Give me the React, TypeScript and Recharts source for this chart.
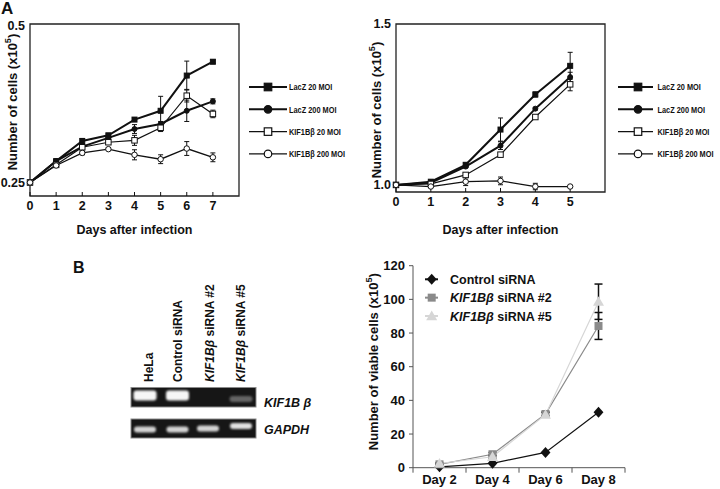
import React from "react";
import { LineChart, Line, XAxis, YAxis, ErrorBar, ReferenceArea, Legend } from "recharts";

// Panel A (left): cells x10^5, days 0-7
const daysLeft = [0, 1, 2, 3, 4, 5, 6, 7];
const lacZ20Left = [0.25, 0.284, 0.316, 0.325, 0.35, 0.364, 0.42, 0.442];
const lacZ20LeftErr = [0, 0.002, 0.004, 0.003, 0.003, 0.023, 0.023, 0.003];
const lacZ200Left = [0.25, 0.284, 0.307, 0.321, 0.335, 0.343, 0.364, 0.379];
const lacZ200LeftErr = [0, 0.002, 0.003, 0.003, 0.007, 0.004, 0.017, 0.004];
const kif20Left = [0.25, 0.278, 0.306, 0.314, 0.317, 0.337, 0.388, 0.359];
const kif20LeftErr = [0, 0.002, 0.003, 0.003, 0.008, 0.006, 0.01, 0.006];
const kif200Left = [0.25, 0.277, 0.297, 0.303, 0.294, 0.287, 0.304, 0.29];
const kif200LeftErr = [0, 0.002, 0.003, 0.002, 0.008, 0.007, 0.011, 0.007];
const leftTicksY = [0.25, 0.5];

// Panel A (right): days 0-5
const daysRight = [0, 1, 2, 3, 4, 5];
const lacZ20Right = [1.0, 1.01, 1.0625, 1.172, 1.281, 1.37];
const lacZ20RightErr = [0, 0.004, 0.005, 0.036, 0.008, 0.042];
const lacZ200Right = [1.0, 1.007, 1.057, 1.122, 1.237, 1.335];
const lacZ200RightErr = [0, 0.003, 0.004, 0.012, 0.004, 0.015];
const kif20Right = [1.0, 1.003, 1.031, 1.094, 1.211, 1.3125];
const kif20RightErr = [0, 0.003, 0.004, 0.006, 0.005, 0.02];
const kif200Right = [1.0, 0.995, 1.01, 1.0125, 0.995, 0.995];
const kif200RightErr = [0, 0.003, 0.012, 0.012, 0.01, 0.002];
const rightTicksY = [1.0, 1.5];

const seriesNamesA = ["LacZ 20 MOI", "LacZ 200 MOI", "KIF1Bβ 20 MOI", "KIF1Bβ 200 MOI"];

// Panel B (right): viable cells x10^5
const dayNumsB = [2, 4, 6, 8];
const controlB = [0.5, 2.6, 9.1, 32.9];
const controlBErr = [0, 0, 0, 0];
const si2B = [2, 8, 31.9, 84.2];
const si2BErr = [0.5, 1, 1, 8];
const si5B = [2.5, 6.5, 31.5, 98.6];
const si5BErr = [0.5, 1, 1.5, 10.5];
const ticksYB = [0, 20, 40, 60, 80, 100, 120];
const seriesNamesB = ["Control siRNA", "KIF1Bβ siRNA #2", "KIF1Bβ siRNA #5"];

// Panel B (left): RT-PCR gel
const laneNames = ["HeLa", "Control siRNA", "KIF1Bβ siRNA #2", "KIF1Bβ siRNA #5"];
const kifBandLevel = [1, 1, 0, 0.35];
const gapdhBandLevel = [0.85, 0.85, 0.85, 0.9];
const gelRowNames = ["KIF1B β", "GAPDH"];

const FONT = "'Liberation Sans', Arial, Helvetica, sans-serif";
const INK = "#111";

const styleA = [
  { key: "lacZ20", shape: "square", filled: true, lw: 2 },
  { key: "lacZ200", shape: "circle", filled: true, lw: 2 },
  { key: "kif20", shape: "square", filled: false, lw: 1.2 },
  { key: "kif200", shape: "circle", filled: false, lw: 1.3 },
];

const styleB = [
  { key: "control", shape: "diamond", size: 11, color: "#111" },
  { key: "si2", shape: "square", size: 8, color: "#8a8a8a" },
  { key: "si5", shape: "triangle", size: 11, color: "#d6d6d6" },
];

const rowsLeft = daysLeft.map((d, i) => ({
  day: d,
  lacZ20: lacZ20Left[i], lacZ20Err: lacZ20LeftErr[i],
  lacZ200: lacZ200Left[i], lacZ200Err: lacZ200LeftErr[i],
  kif20: kif20Left[i], kif20Err: kif20LeftErr[i],
  kif200: kif200Left[i], kif200Err: kif200LeftErr[i],
}));

const rowsRight = daysRight.map((d, i) => ({
  day: d,
  lacZ20: lacZ20Right[i], lacZ20Err: lacZ20RightErr[i],
  lacZ200: lacZ200Right[i], lacZ200Err: lacZ200RightErr[i],
  kif20: kif20Right[i], kif20Err: kif20RightErr[i],
  kif200: kif200Right[i], kif200Err: kif200RightErr[i],
}));

const rowsB = dayNumsB.map((d, i) => ({
  day: d,
  control: controlB[i], controlErr: controlBErr[i],
  si2: si2B[i], si2Err: si2BErr[i],
  si5: si5B[i], si5Err: si5BErr[i],
}));

function Marker({ cx, cy, shape, size, fill, stroke, sw }: any) {
  if (cx == null || cy == null) return <g />;
  const h = size / 2;
  if (shape === "square")
    return <rect x={cx - h} y={cy - h} width={size} height={size} fill={fill} stroke={stroke} strokeWidth={sw} />;
  if (shape === "circle") return <circle cx={cx} cy={cy} r={h} fill={fill} stroke={stroke} strokeWidth={sw} />;
  if (shape === "diamond")
    return (
      <polygon
        points={`${cx},${cy - h} ${cx + h * 0.9},${cy} ${cx},${cy + h} ${cx - h * 0.9},${cy}`}
        fill={fill} stroke={stroke} strokeWidth={sw}
      />
    );
  return (
    <polygon
      points={`${cx},${cy - h} ${cx + h},${cy + h * 0.75} ${cx - h},${cy + h * 0.75}`}
      fill={fill} stroke={stroke} strokeWidth={sw}
    />
  );
}

// italic gene name inside a label
function geneText(name: string) {
  if (!name.startsWith("KIF1Bβ")) return name;
  return [
    <tspan key="g" fontStyle="italic">KIF1Bβ</tspan>,
    <tspan key="r">{name.slice(6)}</tspan>,
  ];
}

function YTitle({ viewBox, cx, dy, size, text }: any) {
  const { x, y, height } = viewBox;
  const px = x + cx;
  const py = y + height / 2 + dy;
  return (
    <text
      x={px} y={py} transform={`rotate(-90 ${px} ${py})`} textAnchor="middle"
      fontSize={size} fontWeight={700} fill={INK} fontFamily={FONT} dy={size * 0.35}
    >
      {text}
      <tspan fontSize={size * 0.7} dy={-size * 0.4}>5</tspan>
      <tspan dy={size * 0.4}>)</tspan>
    </text>
  );
}

function LegendA({ lineLen, markerX, textX }: any) {
  return (
    <svg width={130} height={95} style={{ overflow: "visible", display: "block" }}>
      {styleA.map((s, i) => {
        const y = 11 + i * 22.3;
        return (
          <g key={s.key}>
            <line x1={0} x2={lineLen} y1={y} y2={y} stroke={INK} strokeWidth={s.lw} />
            <Marker cx={markerX} cy={y} shape={s.shape} size={7.5} fill={s.filled ? INK : "#fff"} stroke={INK} sw={1.2} />
            {/* condensed face, as in the original figure */}
            <text
              transform={`translate(${textX} ${y + 3.3}) scale(0.8 1)`}
              fontSize={9.2} fontWeight={700} fontFamily={FONT} fill={INK}
            >
              {seriesNamesA[i]}
            </text>
          </g>
        );
      })}
    </svg>
  );
}

function LegendB() {
  return (
    <svg width={160} height={60} style={{ overflow: "visible", display: "block" }}>
      {styleB.map((s, i) => {
        const y = 9.3 + i * 18.35;
        return (
          <g key={s.key}>
            <line x1={5} x2={18} y1={y} y2={y} stroke={s.color} strokeWidth={2} />
            <Marker cx={11.7} cy={y} shape={s.shape} size={s.size} fill={s.color} stroke="none" sw={0} />
            <text x={30} y={y + 4.5} fontSize={12.5} fontWeight={700} fontFamily={FONT} fill={INK}>
              {geneText(seriesNamesB[i])}
            </text>
          </g>
        );
      })}
    </svg>
  );
}

function GrowthPanel({ rows, xMax, yDomain, yTicks, yFmt, margin, yWidth, xHeight, xLabelOffset, titleCx, titleDy, legend }: any) {
  const xTicks = rows.map((r: any) => r.day);
  const tickStyle = { fill: INK, fontSize: 12.5, fontWeight: 700, fontFamily: FONT };
  return (
    <LineChart width={360} height={245} data={rows} margin={margin}>
      <XAxis
        dataKey="day" type="number" domain={[0, xMax]} ticks={xTicks} interval={0}
        axisLine={false} tickSize={-4} tickMargin={9.5} tickLine={{ stroke: INK }}
        height={xHeight} tick={tickStyle}
        label={{ value: "Days after infection", position: "insideBottom", offset: xLabelOffset, fill: INK, fontSize: 12.5, fontWeight: 700, fontFamily: FONT }}
      />
      <YAxis
        type="number" domain={yDomain} ticks={yTicks} tickFormatter={yFmt} allowDataOverflow interval={0}
        axisLine={false} tickLine={false} tickSize={0} tickMargin={5} width={yWidth} tick={tickStyle}
        label={<YTitle cx={titleCx} dy={titleDy} size={13} text="Number of cells (x10" />}
      />
      <ReferenceArea
        x1={0} x2={xMax} y1={yDomain[0]} y2={yDomain[1]}
        fill="none" fillOpacity={0} stroke="#222" strokeWidth={1.3} ifOverflow="visible"
      />
      {styleA.map((s, i) => (
        <Line
          key={s.key} dataKey={s.key} name={seriesNamesA[i]} stroke={INK} strokeWidth={s.lw}
          isAnimationActive={false} activeDot={false}
          dot={(p: any) => (
            <Marker
              key={`${s.key}-${p.index}`} cx={p.cx} cy={p.cy} shape={s.shape} size={s.filled ? 5 : 5.5}
              fill={s.filled ? INK : "#fff"} stroke={INK} sw={1}
            />
          )}
        >
          <ErrorBar dataKey={`${s.key}Err`} width={2.5} stroke={INK} strokeWidth={1} direction="y" />
        </Line>
      ))}
      <Legend
        layout="vertical" align="center" verticalAlign="middle"
        wrapperStyle={{ left: legend.left, top: legend.top, width: 130, height: 95 }}
        content={() => <LegendA lineLen={legend.lineLen} markerX={legend.markerX} textX={legend.textX} />}
      />
    </LineChart>
  );
}

function DayTick({ x, y, payload }: any) {
  const v = payload.value;
  if (v % 2 === 1) return <line x1={x} x2={x} y1={y} y2={y + 5} stroke="#555" strokeWidth={1} />;
  return (
    <text x={x} y={y + 16} textAnchor="middle" fontSize={13} fontWeight={700} fontFamily={FONT} fill={INK}>
      {`Day ${v}`}
    </text>
  );
}

function ViablePanel() {
  return (
    <LineChart width={360} height={244} data={rowsB} margin={{ top: 20.7, right: 95, bottom: 0, left: 0 }}>
      <XAxis
        dataKey="day" type="number" domain={[1, 9]} ticks={[1, 2, 3, 4, 5, 6, 7, 8, 9]} interval={0}
        axisLine={{ stroke: "#555" }} tickLine={false} tickSize={0} tickMargin={0} height={21.3}
        tick={<DayTick />}
      />
      <YAxis
        type="number" domain={[0, 120]} ticks={ticksYB} interval={0} width={53}
        axisLine={{ stroke: "#555" }} tickLine={{ stroke: "#555" }} tickSize={4} tickMargin={4}
        tick={{ fill: INK, fontSize: 13, fontWeight: 700, fontFamily: FONT }}
        label={<YTitle cx={13} dy={-5} size={13} text="Number of viable cells (x10" />}
      />
      {styleB.map((s, i) => (
        <Line
          key={s.key} dataKey={s.key} name={seriesNamesB[i]} stroke={s.color} strokeWidth={1.2}
          isAnimationActive={false} activeDot={false}
          dot={(p: any) => (
            <Marker key={`${s.key}-${p.index}`} cx={p.cx} cy={p.cy} shape={s.shape} size={s.size} fill={s.color} stroke="none" sw={0} />
          )}
        >
          <ErrorBar dataKey={`${s.key}Err`} width={4} stroke={INK} strokeWidth={1.5} direction="y" />
        </Line>
      ))}
      <Legend
        layout="vertical" align="center" verticalAlign="middle"
        wrapperStyle={{ left: 60, top: 25, width: 160, height: 60 }}
        content={() => <LegendB />}
      />
    </LineChart>
  );
}

function Gel() {
  const laneX = [145, 177.5, 208, 241];
  const kifY = [395.5, 395.5, 396, 399];
  const gapY = [429.5, 429.5, 428.5, 426];
  const labelX = [152.5, 181.5, 213.5, 244.5];
  return (
    <g fontFamily={FONT}>
      <defs>
        <filter id="bandBlur" x="-50%" y="-150%" width="200%" height="400%">
          <feGaussianBlur stdDeviation="1.1" />
        </filter>
      </defs>
      {laneNames.map((n, i) => (
        <text
          key={n} x={labelX[i]} y={382} transform={`rotate(-90 ${labelX[i]} 382)`}
          fontSize={12} fontWeight={700} fill={INK}
        >
          {geneText(n)}
        </text>
      ))}
      <rect x={131} y={387.5} width={125} height={19.5} fill="#161616" stroke="#8a8a8a" strokeWidth={1} />
      <rect x={131} y={419} width={125} height={19} fill="#161616" stroke="#8a8a8a" strokeWidth={1} />
      {kifBandLevel.map((v, i) =>
        v > 0 ? (
          <rect
            key={`k${i}`} x={laneX[i] - 11.5} y={kifY[i] - (2 + 3 * v)} width={23} height={4 + 6 * v} rx={3}
            fill="#f6f6f6" opacity={Math.min(1, v)} filter="url(#bandBlur)"
          />
        ) : null
      )}
      {gapdhBandLevel.map((v, i) => (
        <rect
          key={`g${i}`} x={laneX[i] - 11} y={gapY[i] - 3} width={22} height={6} rx={3}
          fill="#f6f6f6" opacity={v} filter="url(#bandBlur)"
        />
      ))}
      <text x={264} y={406.5} fontSize={12.5} fontWeight={700} fontStyle="italic" fill={INK}>{gelRowNames[0]}</text>
      <text x={264} y={433.5} fontSize={12.5} fontWeight={700} fontStyle="italic" fill={INK}>{gelRowNames[1]}</text>
    </g>
  );
}

export default function App() {
  return (
    <div
      style={{
        position: "absolute", left: 0, top: 0, width: 720, height: 489, overflow: "hidden",
        background: "#fff", fontFamily: FONT,
      }}
    >
      <div style={{ position: "absolute", left: 0, top: 0 }}>
        <GrowthPanel
          rows={rowsLeft} xMax={8} yDomain={[0.2285, 0.502]} yTicks={leftTicksY} yFmt={(v: number) => String(v)}
          margin={{ top: 24, right: 121, bottom: 0, left: 0 }} yWidth={30} xHeight={49}
          xLabelOffset={11.5} titleCx={12} titleDy={-8}
          legend={{ left: 249, top: 76.3, lineLen: 38, markerX: 19, textX: 40 }}
        />
      </div>
      <div style={{ position: "absolute", left: 360, top: 0 }}>
        <GrowthPanel
          rows={rowsRight} xMax={6} yDomain={[0.978, 1.5]} yTicks={rightTicksY} yFmt={(v: number) => v.toFixed(1)}
          margin={{ top: 24, right: 115, bottom: 0, left: 0 }} yWidth={36} xHeight={53}
          xLabelOffset={11} titleCx={16} titleDy={2}
          legend={{ left: 258.3, top: 76.3, lineLen: 35, markerX: 20, textX: 39.5 }}
        />
      </div>
      <div style={{ position: "absolute", left: 360, top: 245 }}>
        <ViablePanel />
      </div>
      <svg width={720} height={489} style={{ position: "absolute", left: 0, top: 0, pointerEvents: "none" }}>
        <text x={1} y={14} fontSize={17} fontWeight={700} fill={INK} fontFamily={FONT}>A</text>
        <text x={73} y={273} fontSize={16} fontWeight={700} fill={INK} fontFamily={FONT}>B</text>
        <Gel />
      </svg>
    </div>
  );
}
